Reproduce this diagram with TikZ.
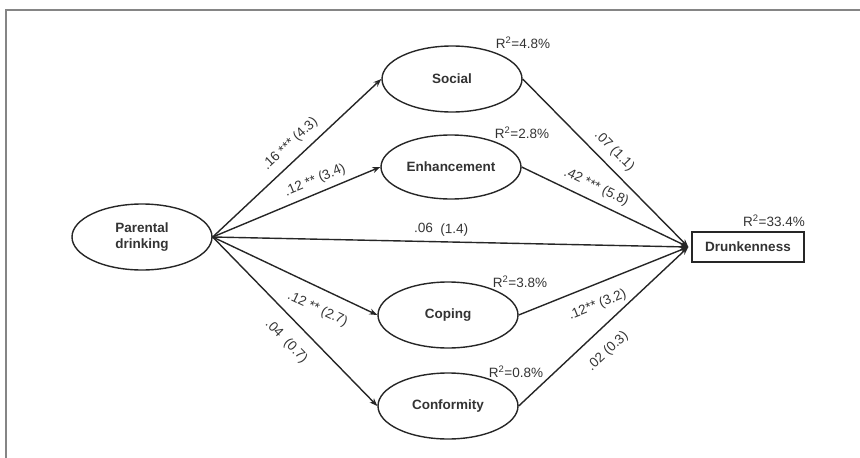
\documentclass[tikz,border=0pt]{standalone}
\usepackage{fontspec}
\setmainfont{Liberation Sans}
\usetikzlibrary{shapes.geometric,arrows.meta}
\definecolor{linec}{HTML}{262626}
\definecolor{textc}{HTML}{333333}
\definecolor{framec}{HTML}{858585}
\begin{document}
\begin{tikzpicture}[x=1pt,y=-1pt,
  latent/.style={ellipse,draw=linec,line width=1.4pt,minimum width=140pt,minimum height=66pt,inner sep=0pt,
    font=\fontsize{13.5}{15.5}\selectfont\bfseries,text=textc,align=center},
  obs/.style={rectangle,draw=linec,line width=1.4pt,minimum width=112pt,minimum height=30pt,inner sep=0pt,
    font=\fontsize{13.5}{15.5}\selectfont\bfseries,text=textc},
  arr/.style={draw=linec,line width=1.4pt,-{Stealth[length=8pt,width=6pt]}},
  coef/.style={font=\fontsize{13.5}{15}\selectfont,text=textc,sloped,inner sep=0pt,text height=9pt,text depth=3pt},
  rsq/.style={font=\fontsize{13.5}{15}\selectfont,text=textc,inner sep=0pt},
  framel/.style={draw=framec,line width=2pt}]
\path[use as bounding box] (0,0) rectangle (860,458);
\draw[framel] (860,10) -- (6,10) -- (6,458);

\node[latent] (pd) at (142,237) {Parental\\drinking};
\node[latent] (soc) at (452,79) {Social};
\node[latent,minimum height=64pt] (enh) at (451,167) {Enhancement};
\node[latent] (cop) at (448,315) {Coping};
\node[latent] (con) at (448,406) {Conformity};
\node[obs] (dr) at (748,247) {Drunkenness};
\coordinate (tip) at ([xshift=-3pt]dr.west);

\node[rsq] (r1) at (523,43) {R\textsuperscript{2}=4.8\%};
\node[rsq] (r2) at (522,133) {R\textsuperscript{2}=2.8\%};
\node[rsq] (r3) at (520,282) {R\textsuperscript{2}=3.8\%};
\node[rsq] (r4) at (516,372) {R\textsuperscript{2}=0.8\%};
\node[rsq] (r5) at (774,221) {R\textsuperscript{2}=33.4\%};

\draw[arr] (pd.east) -- node[coef,pos=0.52,above=7.5pt] {.16 *** (4.3)} (soc.west);
\draw[arr] (pd.east) -- node[coef,pos=0.64,above=5.5pt] {.12 ** (3.4)} (enh.west);
\draw[arr] (pd.east) -- node[coef,pos=0.48,above=5pt] {.06\ \ (1.4)} (tip);
\draw[arr] (pd.east) -- node[coef,pos=0.69,below=14pt] {.12 ** (2.7)} (cop.west);
\draw[arr] (pd.east) -- node[coef,pos=0.535,below=14pt] {.04\ \ (0.7)} (con.west);

\draw[arr] (soc.east) -- node[coef,pos=0.49,above=7.5pt] {.07 (1.1)} (tip);
\draw[arr] (enh.east) -- node[coef,pos=0.41,above=7pt] {.42 *** (5.8)} (tip);
\draw[arr] (cop.east) -- node[coef,pos=0.42,below=14pt] {.12** (3.2)} (tip);
\draw[arr] (con.east) -- node[coef,pos=0.44,below=15pt] {.02 (0.3)} (tip);
\end{tikzpicture}
\end{document}
